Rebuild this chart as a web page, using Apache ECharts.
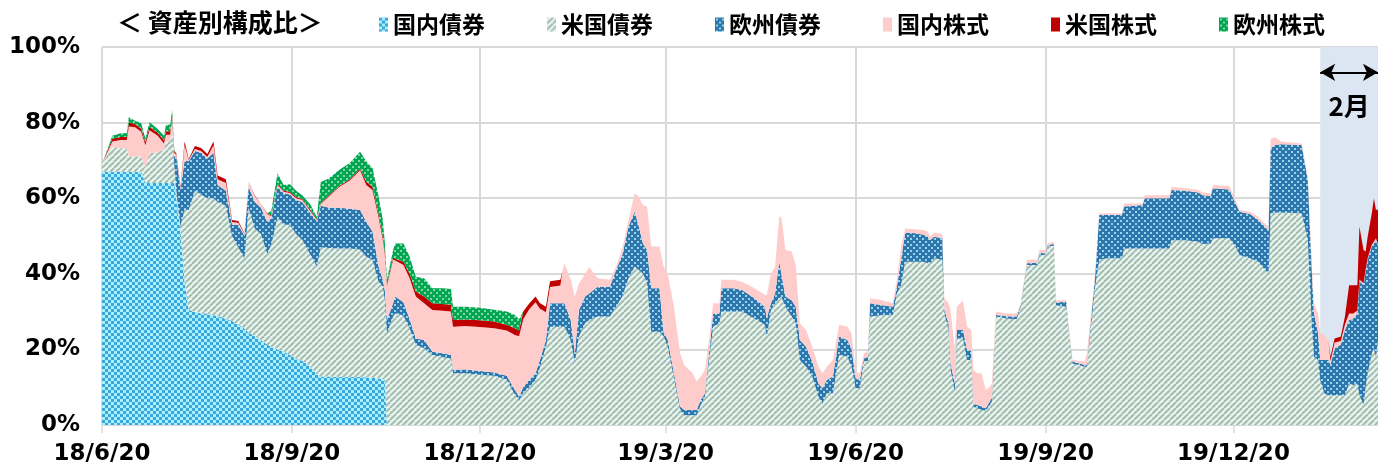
<!DOCTYPE html>
<html><head><meta charset="utf-8">
<script src="https://cdn.jsdelivr.net/npm/echarts@6/dist/echarts.min.js"></script>
<style>html,body{margin:0;padding:0;background:#fff}#c{width:1388px;height:471px}</style>
</head><body><div id="c"></div>
<script>
const dates = [
'2018-06-20','2018-06-25','2018-06-29','2018-07-02','2018-07-03','2018-07-06','2018-07-09','2018-07-11','2018-07-13','2018-07-17',
'2018-07-20','2018-07-21','2018-07-23','2018-07-24','2018-07-25','2018-07-26','2018-07-28','2018-07-30','2018-08-01','2018-08-04',
'2018-08-07','2018-08-10','2018-08-13','2018-08-15','2018-08-19','2018-08-22','2018-08-25','2018-08-28','2018-08-30','2018-09-02',
'2018-09-05','2018-09-08','2018-09-10','2018-09-13','2018-09-16','2018-09-19','2018-09-22','2018-09-25','2018-09-29','2018-10-02',
'2018-10-04','2018-10-08','2018-10-13','2018-10-18','2018-10-23','2018-10-26','2018-10-29','2018-11-01','2018-11-03','2018-11-04',
'2018-11-05','2018-11-08','2018-11-09','2018-11-13','2018-11-16','2018-11-19','2018-11-23','2018-11-27','2018-12-02','2018-12-06',
'2018-12-07','2018-12-13','2018-12-20','2018-12-27','2019-01-02','2019-01-06','2019-01-08','2019-01-10','2019-01-13','2019-01-16',
'2019-01-18','2019-01-21','2019-01-23','2019-01-28','2019-01-29','2019-01-30','2019-02-02','2019-02-04','2019-02-06','2019-02-09',
'2019-02-11','2019-02-15','2019-02-21','2019-02-24','2019-02-27','2019-03-02','2019-03-05','2019-03-07','2019-03-09','2019-03-11',
'2019-03-13','2019-03-17','2019-03-19','2019-03-21','2019-03-24','2019-03-27','2019-03-29','2019-04-02','2019-04-04','2019-04-06',
'2019-04-08','2019-04-10','2019-04-12','2019-04-15','2019-04-16','2019-04-22','2019-04-26','2019-05-02','2019-05-07','2019-05-08',
'2019-05-10','2019-05-12','2019-05-14','2019-05-15','2019-05-17','2019-05-20','2019-05-22','2019-05-24','2019-05-27','2019-05-30',
'2019-06-02','2019-06-04','2019-06-06','2019-06-09','2019-06-12','2019-06-16','2019-06-18','2019-06-20','2019-06-22','2019-06-24',
'2019-06-26','2019-06-27','2019-07-03','2019-07-08','2019-07-10','2019-07-12','2019-07-14','2019-07-19','2019-07-23','2019-07-25',
'2019-07-26','2019-07-28','2019-08-01','2019-08-02','2019-08-04','2019-08-05','2019-08-07','2019-08-08','2019-08-11','2019-08-13',
'2019-08-15','2019-08-16','2019-08-18','2019-08-20','2019-08-22','2019-08-24','2019-08-25','2019-08-27','2019-09-01','2019-09-06',
'2019-09-08','2019-09-11','2019-09-16','2019-09-17','2019-09-20','2019-09-21','2019-09-24','2019-09-25','2019-09-30','2019-10-01',
'2019-10-03','2019-10-09','2019-10-10','2019-10-12','2019-10-14','2019-10-16','2019-10-20','2019-10-27','2019-10-28','2019-11-06',
'2019-11-07','2019-11-19','2019-11-20','2019-11-27','2019-12-03','2019-12-05','2019-12-09','2019-12-10','2019-12-18','2019-12-21',
'2019-12-23','2019-12-28','2020-01-01','2020-01-05','2020-01-06','2020-01-07','2020-01-09','2020-01-12','2020-01-22','2020-01-25',
'2020-01-27','2020-01-28','2020-01-30','2020-01-31','2020-02-02','2020-02-04','2020-02-05','2020-02-07','2020-02-10','2020-02-12',
'2020-02-14','2020-02-16','2020-02-18','2020-02-19','2020-02-21','2020-02-22','2020-02-23','2020-02-25','2020-02-26','2020-02-27',
'2020-02-28'
];
// 国内債券
const domesticBond = [
67,67,67,67,67,67,67,64,64,64,
64,64,64,64,64,60,51.5,38,30.4,30,
29.5,29.5,29,29,28,27.5,26.5,25.5,24.5,23.5,
22.5,21.3,20.7,20,19.5,18.5,17.5,17,15.5,13.5,
12.8,12.8,12.7,12.7,12.7,12.6,12.5,12.3,12.2,12,
0,0,0,0,0,0,0,0,0,0, 0,0,0,0,0,0,0,0,0,0,
0,0,0,0,0,0,0,0,0,0, 0,0,0,0,0,0,0,0,0,0,
0,0,0,0,0,0,0,0,0,0, 0,0,0,0,0,0,0,0,0,0,
0,0,0,0,0,0,0,0,0,0, 0,0,0,0,0,0,0,0,0,0,
0,0,0,0,0,0,0,0,0,0, 0,0,0,0,0,0,0,0,0,0,
0,0,0,0,0,0,0,0,0,0, 0,0,0,0,0,0,0,0,0,0,
0,0,0,0,0,0,0,0,0,0, 0,0,0,0,0,0,0,0,0,0,
0,0,0,0,0,0,0,0,0,0, 0,0,0,0,0,0,0,0,0,0,
0,0,0,0,0,0,0,0,0,0,
0
];
// 米国債券
const usBond = [
2,6.6,6.2,6.2,4,4,4,4,8,8,
9,11,11,14,5,2,1,19,26.5,32,
31.5,30.5,31,30,30,22.5,20.5,18.5,33,28.5,
28,24,27,35,33.5,34.5,33,32,29.5,28.5,
34.2,34,34,34,33.7,31.9,31.2,25.5,24.4,21,
24.2,28.7,29.5,29,25.5,21.2,20.3,18.5,18,17.5,
13.7,13.7,13.3,13,12,8,6.5,8.5,10,12,
15,20.7,26,26,26,26,22.5,16.5,23.4,27,
27.8,28.7,28.7,31.3,34,38.8,41.9,41,40,37.5,
24.7,24.7,23.5,20.7,12.3,4,2.6,2.6,2.6,5.3,
7.5,17.2,26,26.9,30,30,30,28.2,26.5,23.4,
30.4,32.2,33.5,34,31.3,28.7,26.9,17.2,15.4,12.8,
7.5,5.7,8.4,8.4,18.5,18.1,15.4,9.7,9.7,16.8,
17,28.7,29.1,29.1,34.8,37,43.2,43.2,43.2,42.8,
42.8,44.1,43.7,29.5,25.1,14.6,8.8,22.9,22.9,17.2,
17.2,4.9,4.4,4,3.8,5.3,6.2,28.7,28.2,28,
31.3,42.3,42.3,45,45,47.2,47.4,31.7,31.3,26,
16.3,15.4,15.4,26,36.6,43.7,44.1,44.1,46.7,46.7,
46.7,46.7,48.9,48.9,48.5,47.9,48,49.4,49.4,47.2,
45,44.1,43.2,40.6,40.1,56,56.2,56.2,56,49,
26,18,17.2,11.9,8.4,7.9,7.9,7.9,7.9,7.9,
11,10.6,11,8,5.3,10.1,13.7,19,20.3,18,
22.5
];
// 欧州債券
const euroBond = [
0,0,0,0,0,0,0,0,0,0,
0,0,0,0,2,9,9.7,13,12.9,10.5,
11,10.5,12,4.5,4,3,6,6,5.5,7,
7,8.5,7,8,8.3,8,9,10,11,12,
11,10.7,10.8,10.5,10.5,9.3,7.5,4,1.8,2.5,
3.6,3.5,4.5,3.5,2.5,1.7,2.2,0.9,1,1,
0.9,1,1,0.9,1,1.3,1,1.5,2,1.7,
2,1.8,6.2,6.2,6.2,6.2,5.3,2.5,7,7,
7,7.9,7.9,9.7,11,13.7,14.5,11.5,8,8.8,
11.5,11.5,1,1.8,1.4,0.9,1.4,1.4,1.4,1.3,
0.9,1.8,3.5,2.6,6.2,6.2,5.7,5.3,4.8,5,
1.8,2.6,9.7,6.1,2.7,4.3,4.4,5.3,5.3,4,
3.5,4,3.5,4.4,4.9,4.4,4.9,2.6,2.2,0.8,
1,3.5,2.6,2.2,1.8,6.7,7.7,7.5,7.1,7,
6.1,5.7,5.7,1,1.8,1.7,2.2,2.2,2.2,2.6,
2.5,0.8,0.9,0.9,0.6,0.9,1.3,0.4,0.6,0.7,
0.5,0.5,0.6,0.6,0.4,0.4,0.5,0.7,1.3,0.4,
0.5,0.5,0.5,1.8,2.6,11.9,11.5,11.5,11.1,11.5,
13.3,13.3,13.3,13.1,13,12.9,12.6,13.2,12.9,11.4,
11.4,11.7,11,11.4,11.5,17.2,17.9,18.1,18.1,15.8,
14,11.5,7.1,5.3,8.8,9.3,8,12.4,13.3,17.2,
16.8,17.6,18.5,30,31.7,30.5,30,28.2,27.7,30.9,
24.7
];
// 国内株式
const domesticStock = [
0,1.4,2.2,2.2,8,7.8,6.6,6,6,4.5,
1.5,1.8,1.8,3,1,0.5,0.5,4,0.3,0.5,
0.5,0.4,2,1.5,2,0.7,0.5,0.5,1.5,1.5,
1,2,0.5,0.5,0.4,0.4,0.5,0.5,0.5,0.3,
0.5,3,5.5,7.5,10.5,9.7,11,13,10.6,9.5,
9,11.5,9.5,9.8,10.8,11.1,9.7,11,11.2,11.5,
11.4,11.5,11.6,11.7,12,14.5,16,18,18.7,18.8,
13.8,7.3,4.3,4.7,8.5,10.6,10.6,15,7,6,
7,2.2,1.8,0.9,1.7,1.7,4.9,7.9,10.2,11.5,
11,11,17.4,17.6,17.6,14.1,11.9,9.7,7.5,6.2,
6.2,3.5,2.7,2.7,2.2,2.2,2.2,2.7,3.1,6,
7.9,7.1,11.9,15,12.3,12.9,11,4.4,4.4,3.9,
4.4,4,3.5,4.4,3.1,3.5,4,1.8,1.8,1.4,
1.5,1.3,1.3,0.9,1.8,3.5,1.1,1.1,1.3,1.3,
0.9,1.1,1.1,3,5.3,14.1,9.3,6.2,7.9,6.2,
5.4,8.9,8.4,8.8,4.9,3.9,3.5,0.9,0.7,0.8,
0.4,0.9,0.8,0.7,0.9,0.4,0.6,0.6,0.4,0.5,
0.4,0.9,3.1,1.7,0.9,0.4,0.4,0.4,0.8,0.4,
0.8,0.8,0.8,0.6,0.7,0.7,0.7,0.9,0.9,0.9,
0.5,0.6,0.9,0.9,0.9,2.6,2,0.7,0.4,0.9,
1.9,2.7,5.2,7.1,6.6,5.3,1,1.5,1,1.5,
1.7,1.3,0.8,0.5,0.5,0.5,0.5,0.5,0.5,0.5,
0.5
];
// 米国株式
const usStock = [
0,0.7,0.8,0.8,1,0.8,0.8,0.8,0.9,0.8,
0.8,0.9,0.9,0.8,0.5,0.4,0.3,1,0.3,0.8,
0.8,0.8,1,1,1,0.5,0.5,0.2,0,0.2,
0,0.2,0.2,0.3,0.3,0.3,0.3,0.3,0.3,0.2,
0.3,0.3,0.3,0.3,0.4,0.9,0.8,0.8,0.8,0.6,
0.3,0.6,0.5,0.9,1.2,1.3,1.8,1.8,1.8,1.8,
1.8,1.7,1.8,1.8,1.5,1.8,1.5,2,1.5,1.5,
1.5,1.5,1.5,1.5,0,0,0,0,0,0,
0,0,0,0,0,0,0,0,0,0, 0,0,0,0,0,0,0,0,0,0,
0,0,0,0,0,0,0,0,0,0, 0,0,0,0,0,0,0,0,0,0,
0,0,0,0,0,0,0,0,0,0, 0,0,0,0,0,0,0,0,0,0,
0,0,0,0,0,0,0,0,0,0, 0,0,0,0,0,0,0,0,0,0,
0,0,0,0,0,0,0,0,0,0, 0,0,0,0,0,0,0,0,0,0,
0,0,0,0,0,0,0,0,0,0,
0,0,0,0,0,0,0,0,0,0,
0,0,0,0,0,0,1.2,1.1,1.2,2.1,
7.5,7.5,6.7,14,8.8,4.8,5.6,8.3,11.5,7.5,
9.3
];
// 欧州株式
const euroStock = [
0,0.8,1,1,1.4,0.9,1.4,1,1.2,1,
1.2,1.7,1.7,1.5,0.3,0,0,0,0,0,
0,0,0,0,0,0,0,0,0,0,
0,0,1.2,2.8,1.5,2,1.7,1,1.5,0.5,
5.5,4.5,4.2,4.3,4.5,5.3,5,4.8,4.4,2.5,
1.3,2,4,4.8,4.5,3.9,4.8,4,4.2,4.2,
3.5,3.4,3.3,3.1,3.5,3.5,3,0,0,0,
0,0,0,0,0,0,0,0,0,0, 0,0,0,0,0,0,0,0,0,0,
0,0,0,0,0,0,0,0,0,0, 0,0,0,0,0,0,0,0,0,0,
0,0,0,0,0,0,0,0,0,0, 0,0,0,0,0,0,0,0,0,0,
0,0,0,0,0,0,0,0,0,0, 0,0,0,0,0,0,0,0,0,0,
0,0,0,0,0,0,0,0,0,0, 0,0,0,0,0,0,0,0,0,0,
0,0,0,0,0,0,0,0,0,0, 0,0,0,0,0,0,0,0,0,0,
0,0,0,0,0,0,0,0,0,0, 0,0,0,0,0,0,0,0,0,0,
0,0,0,0,0,0,0,0,0,0,
0
];
const seriesNames = ['国内債券','米国債券','欧州債券','国内株式','米国株式','欧州株式'];
const tickDates = ['2018-06-20','2018-09-20','2018-12-20','2019-03-20','2019-06-20','2019-09-20','2019-12-20'];
const axisMin = '2018-06-20', axisMax = '2020-02-28';
const febStart = '2020-01-31', febEnd = '2020-02-28';
const titleText = '＜ 資産別構成比＞';
const febLabel = '2月';

const ts = s => Date.parse(s + 'T00:00:00Z');
function tile(w, h, draw) {
  const c = document.createElement('canvas'); c.width = w; c.height = h;
  const g = c.getContext('2d'); draw(g);
  return { image: c, repeat: 'repeat' };
}
const fills = [
  tile(6, 6, g => { g.fillStyle = '#A8F0FF'; g.fillRect(0,0,6,6); g.fillStyle = '#3AA8DA'; g.fillRect(0,0,3,3); g.fillRect(3,3,3,3); }),
  tile(6, 6, g => { g.fillStyle = '#EAF5EF'; g.fillRect(0,0,6,6); g.strokeStyle = '#A2BCB0'; g.lineWidth = 2;
    for (let k = -6; k <= 12; k += 6) { g.beginPath(); g.moveTo(k, 6); g.lineTo(k + 6, 0); g.stroke(); } }),
  tile(6, 6, g => { g.fillStyle = '#2F76AC'; g.fillRect(0,0,6,6); g.fillStyle = '#95D6EE'; g.fillRect(1,1,2,2); g.fillRect(4,4,2,2); }),
  '#FFCCCC',
  '#C00000',
  tile(6, 6, g => { g.fillStyle = '#00A651'; g.fillRect(0,0,6,6); g.fillStyle = '#7FD9A4'; g.fillRect(1,1,2,2); g.fillRect(4,4,2,2); })
];
const values = [domesticBond, usBond, euroBond, domesticStock, usStock, euroStock];

const series = values.map((vals, i) => ({
  name: seriesNames[i], type: 'line', stack: 'total', z: 3, xAxisIndex: 0,
  symbol: 'none', showSymbol: false, smooth: false,
  lineStyle: { width: 0 },
  itemStyle: { color: fills[i] },
  areaStyle: { color: fills[i], opacity: 1 },
  data: dates.map((d, j) => [ts(d), vals[j]])
}));
series.push({
  name: 'feb', type: 'line', data: [], z: 1, silent: true, xAxisIndex: 0,
  markArea: {
    silent: true,
    itemStyle: { color: '#DCE6F2' },
    label: { show: true, position: 'insideTop', distance: 46, formatter: febLabel,
      color: '#000', fontSize: 26, fontWeight: 'bold', fontFamily: 'Noto Sans CJK JP' },
    data: [[{ xAxis: ts(febStart), yAxis: 0 }, { xAxis: ts(febEnd), yAxis: 100 }]]
  },
  markLine: {
    silent: true, symbol: ['arrow', 'arrow'], symbolSize: [13, 15],
    lineStyle: { color: '#000', width: 2, type: 'solid' }, label: { show: false },
    data: [[{ coord: [ts(febStart), 93.3] }, { coord: [ts(febEnd), 93.3] }]]
  }
});

const chart = echarts.init(document.getElementById('c'), null, { renderer: 'canvas' });
chart.setOption({
  animation: false,
  backgroundColor: '#fff',
  title: { text: titleText, left: 112, top: 5,
    textStyle: { fontSize: 25, fontWeight: 'bold', color: '#000', fontFamily: 'Noto Sans CJK JP' } },
  legend: {
    data: seriesNames, left: 374, top: 8, icon: 'rect', itemWidth: 9, itemHeight: 14, itemGap: 62,
    textStyle: { fontSize: 23, fontWeight: 'bold', color: '#000', fontFamily: 'Noto Sans CJK JP' }
  },
  grid: { left: 102, right: 10, top: 47, bottom: 46, containLabel: false },
  xAxis: [{
    type: 'time', min: ts(axisMin), max: ts(axisMax),
    axisLine: { show: false }, axisTick: { show: false }, axisLabel: { show: false }, splitLine: { show: false }
  }, {
    type: 'value', position: 'bottom', min: ts(axisMin), max: ts(axisMax),
    axisLine: { show: true, onZero: false, lineStyle: { color: '#D9D9D9', width: 1.5 } },
    axisTick: { show: true, length: 8, lineStyle: { color: '#D9D9D9', width: 1.5 }, customValues: tickDates.map(ts) },
    axisLabel: { customValues: tickDates.map(ts), margin: 18, color: '#000', fontSize: 23, fontWeight: 'bold', fontFamily: 'DejaVu Sans',
      formatter: v => { const d = new Date(v); return (d.getUTCFullYear() % 100) + '/' + (d.getUTCMonth() + 1) + '/' + d.getUTCDate(); } },
    splitLine: { show: true, lineStyle: { color: '#D9D9D9', width: 2 } }
  }],
  yAxis: {
    type: 'value', min: 0, max: 100, interval: 20,
    axisLine: { show: false }, axisTick: { show: false },
    axisLabel: { formatter: '{value}%', margin: 22, color: '#000', fontSize: 23, fontWeight: 'bold', fontFamily: 'DejaVu Sans' },
    splitLine: { show: true, lineStyle: { color: '#D9D9D9', width: 2 } }
  },
  series
});
</script>
</body></html>
